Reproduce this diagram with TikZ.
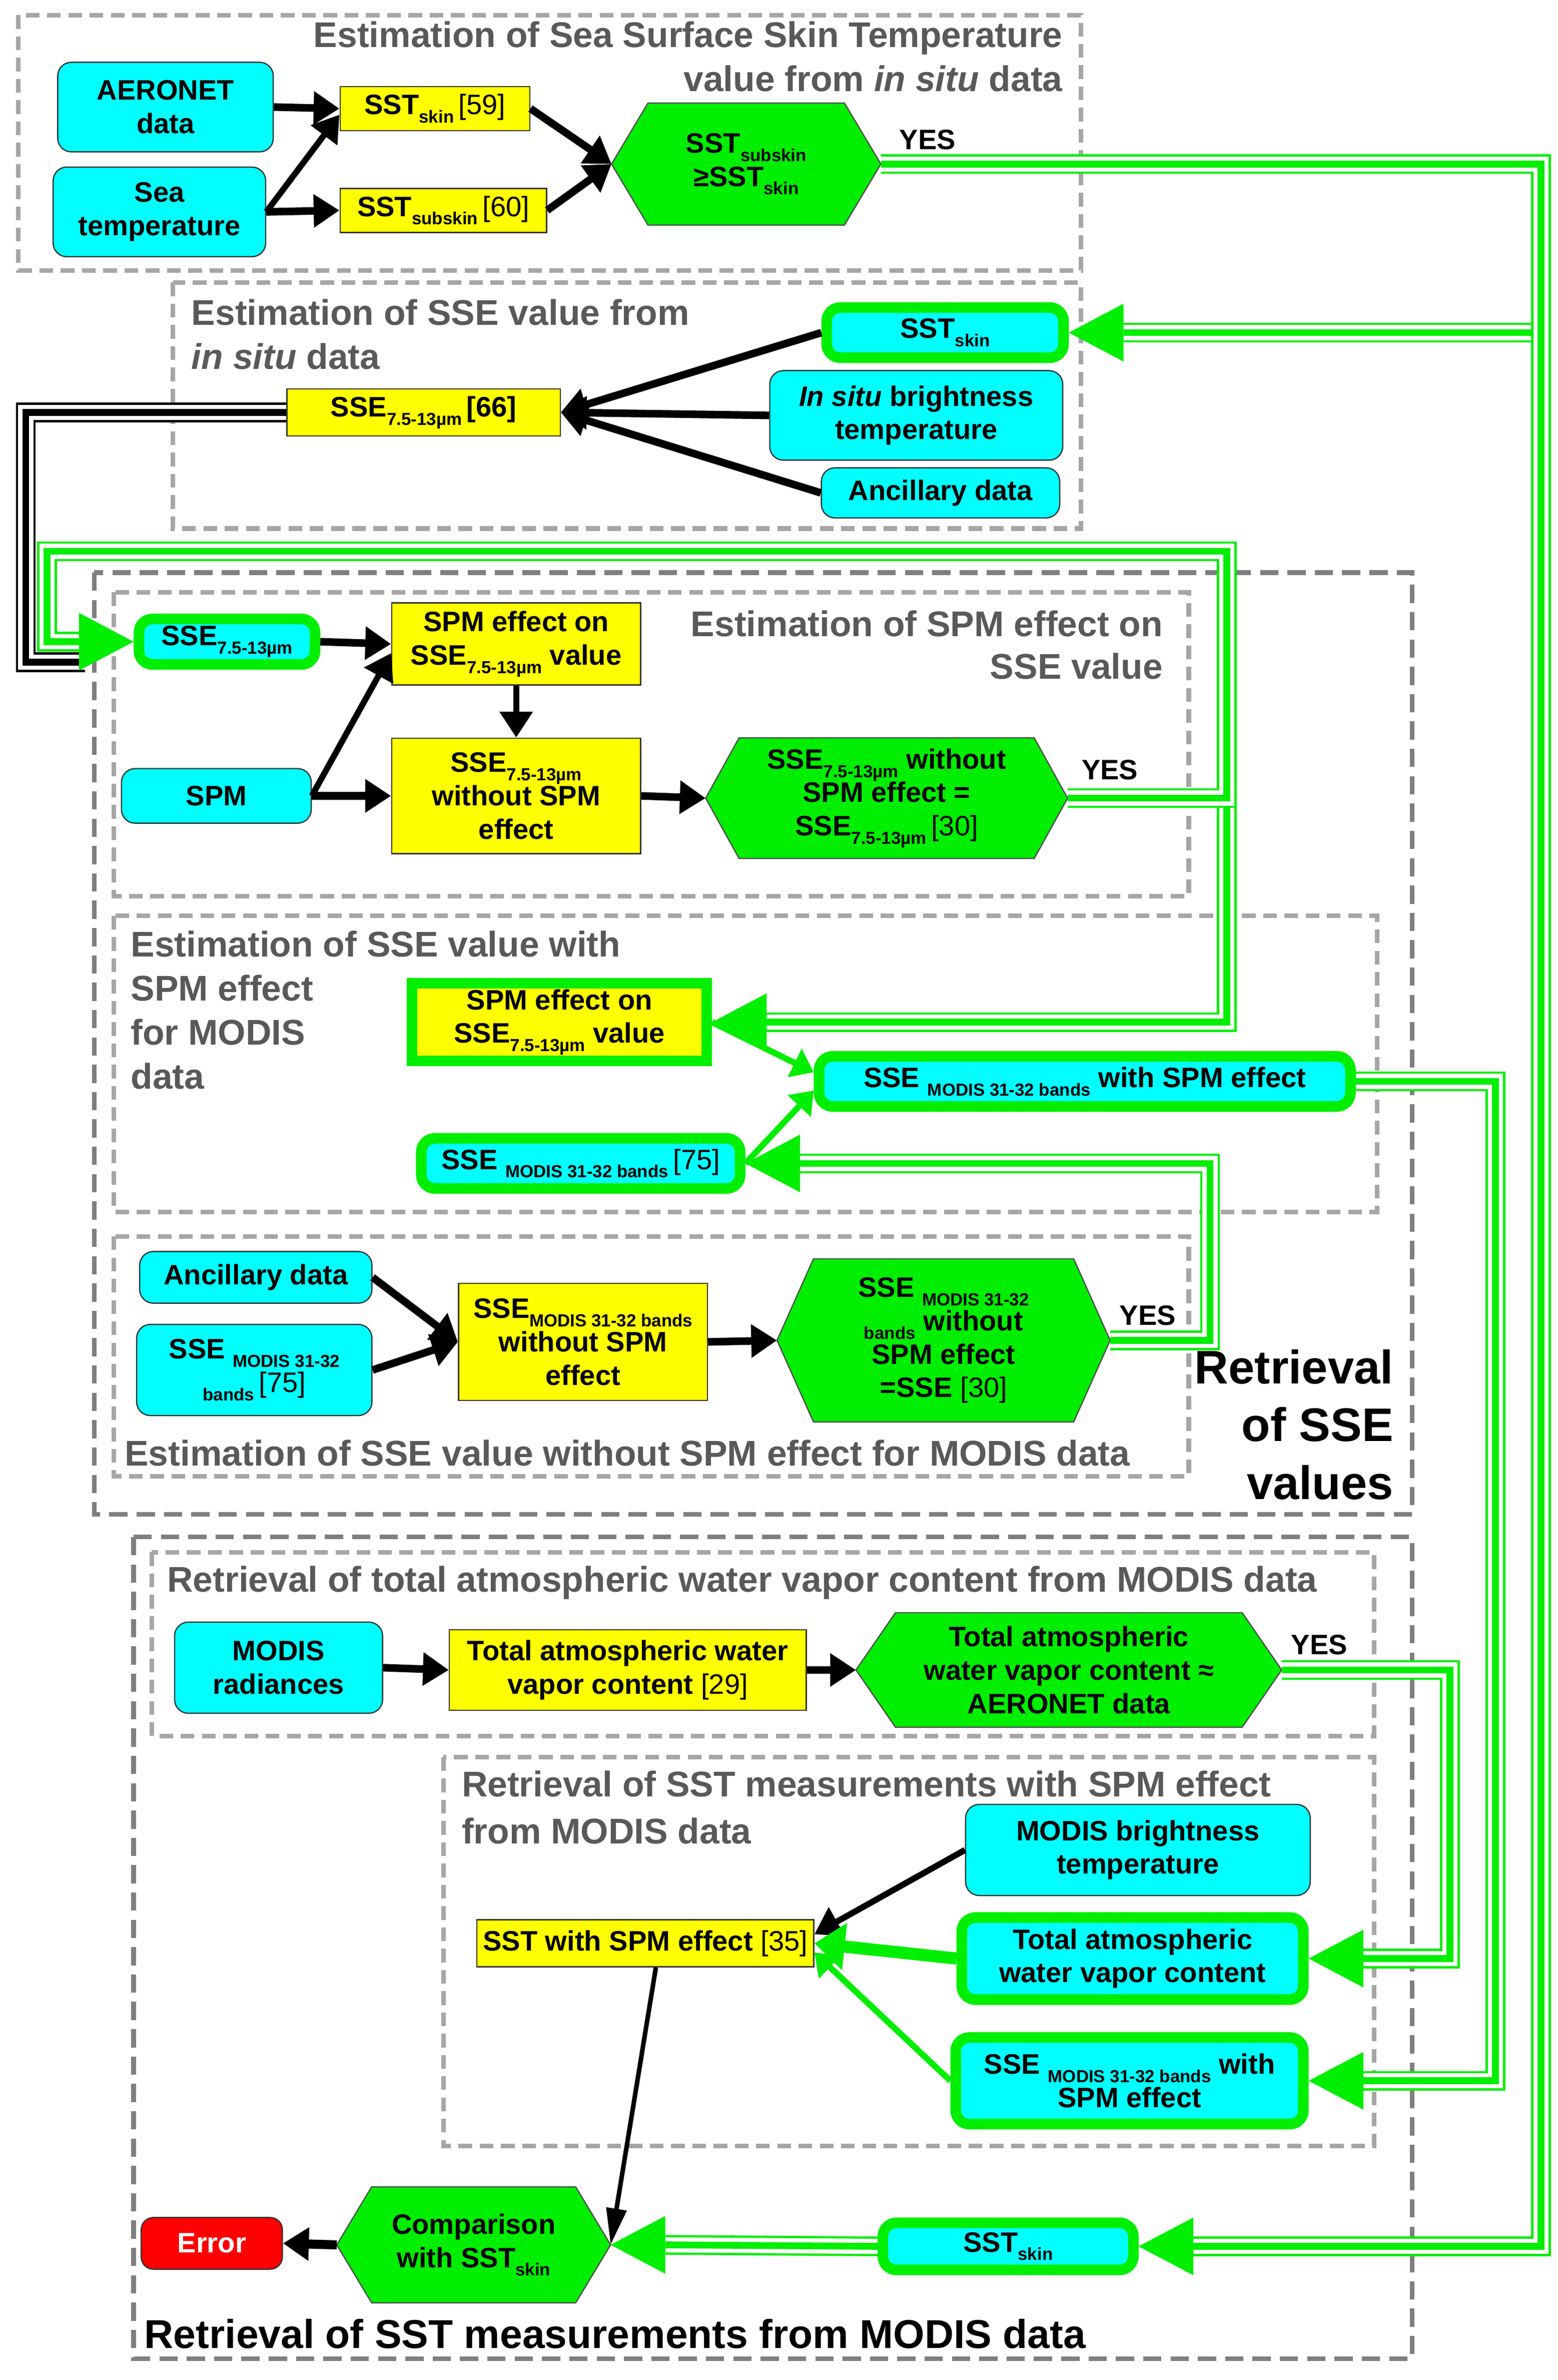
\documentclass[tikz,border=0pt]{standalone}
\usepackage{fontspec}
\setmainfont{Liberation Sans}
\usetikzlibrary{arrows.meta,calc}
\definecolor{C}{HTML}{00FFFF}
\definecolor{Y}{HTML}{FFFF00}
\definecolor{G}{HTML}{00EE00}
\definecolor{R}{HTML}{FF0000}
\definecolor{TG}{HTML}{595959}
\definecolor{DL}{HTML}{A6A6A6}
\definecolor{DD}{HTML}{7F7F7F}
\pgfdeclarelayer{bg}
\pgfsetlayers{bg,main}
\newcommand\nodefont{\fontsize{18.5}{22}\selectfont\bfseries}
\newcommand\ttlfont{\fontsize{23.5}{29}\selectfont\bfseries}
\newcommand\sbs[1]{\raisebox{-0.3em}{\fontsize{11.5}{12}\selectfont #1}}
\newcommand\hexbg[2]{\begin{pgfonlayer}{bg}\draw[hexd] (#1.west) -- ([xshift=#2]#1.north west) -- ([xshift=-#2]#1.north east) -- (#1.east) -- ([xshift=-#2]#1.south east) -- ([xshift=#2]#1.south west) -- cycle;\end{pgfonlayer}}
\newcommand\gtipL[1]{\fill[G] (#1) -- ++(36,-19) -- ++(0,38) -- cycle;}
\newcommand\gtipR[1]{\fill[G] (#1) -- ++(-36,-19) -- ++(0,38) -- cycle;}
\tikzset{
  every node/.style={inner sep=0pt, align=center, font=\nodefont},
  cb/.style={rectangle, rounded corners=9pt, fill=C, draw=black!80, line width=0.8pt},
  cgb/.style={rectangle, rounded corners=9pt, fill=C, draw=G, line width=7pt},
  yb/.style={rectangle, fill=Y, draw=black!80, line width=0.8pt},
  ygb/.style={rectangle, fill=Y, draw=G, line width=7pt},
  hexd/.style={fill=G, draw=black!70, line width=0.8pt},
  ttl/.style={font=\ttlfont, text=TG},
  dl/.style={draw=DL, line width=3pt, dash pattern=on 9pt off 5pt},
  dd/.style={draw=DD, line width=3pt, dash pattern=on 12pt off 6pt},
  ba/.style={draw=black, line width=5pt, -{Triangle[length=17pt,width=21pt]}},
  bt/.style={draw=black, line width=3pt, -{Triangle[length=24pt,width=13pt]}},
  ga/.style={draw=G, line width=4pt, -{Triangle[length=14pt,width=20pt]}},
  gw/.style={draw=G, line width=8pt, -{Triangle[length=20pt,width=30pt]}},
  trip/.style={draw=#1, line width=13pt, postaction={draw=white, line width=10pt}, postaction={draw=#1, line width=4.5pt}}
}
\begin{document}
\begin{tikzpicture}[x=1pt,y=-1pt]
\useasboundingbox (0,0) rectangle (1026,1567);
\begin{pgfonlayer}{bg}
\fill[white] (0,0) rectangle (1026,1567);
\draw[dl] (12,10) rectangle (712,178);
\draw[dl] (114,186) rectangle (712,348);
\draw[dd] (62,377) rectangle (930,997);
\draw[dl] (75,390) rectangle (783,590);
\draw[dl] (75,603) rectangle (907,798);
\draw[dl] (75,814) rectangle (783,972);
\draw[dd] (88,1012) rectangle (930,1553);
\draw[dl] (100,1022) rectangle (905,1143);
\draw[dl] (292,1157) rectangle (905,1413);
\end{pgfonlayer}

% titles
\node[ttl, anchor=base east] (tA1) at (700,31) {Estimation of Sea Surface Skin Temperature};
\node[ttl, anchor=base east] (tA2) at (700,60) {value from \textit{in situ} data};
\node[ttl, anchor=base west] (tB1) at (126,214) {Estimation of SSE value from};
\node[ttl, anchor=base west] (tB2) at (126,243) {\textit{in situ} data};
\node[ttl, anchor=base east] (tD1) at (766,419) {Estimation of SPM effect on};
\node[ttl, anchor=base east] (tD2) at (766,447) {SSE value};
\node[ttl, anchor=base west] (tE1) at (86,630) {Estimation of SSE value with};
\node[ttl, anchor=base west] (tE2) at (86,659) {SPM effect};
\node[ttl, anchor=base west] (tE3) at (86,688) {for MODIS};
\node[ttl, anchor=base west] (tE4) at (86,717) {data};
\node[ttl, anchor=base west] (tF) at (82,965) {Estimation of SSE value without SPM effect for MODIS data};
\node[ttl, anchor=base west] (tH) at (110,1048) {Retrieval of total atmospheric water vapor content from MODIS data};
\node[ttl, anchor=base west] (tI1) at (304,1183) {Retrieval of SST measurements with SPM effect};
\node[ttl, anchor=base west] (tI2) at (304,1214) {from MODIS data};
\node[font=\fontsize{26.5}{30}\selectfont\bfseries, anchor=base west] (tG) at (95,1546) {Retrieval of SST measurements from MODIS data};
\node[font=\fontsize{31}{38}\selectfont\bfseries, anchor=base east] (tC1) at (918,911) {Retrieval};
\node[font=\fontsize{31}{38}\selectfont\bfseries, anchor=base east] (tC2) at (918,949) {of SSE};
\node[font=\fontsize{31}{38}\selectfont\bfseries, anchor=base east] (tC3) at (918,987) {values};

% top block
\node[cb, minimum width=142, minimum height=59] (aero) at (109,70.5) {AERONET\\data};
\node[cb, minimum width=140, minimum height=59] (seat) at (105,139.5) {Sea\\temperature};
\node[yb, minimum width=125, minimum height=29] (sst59) at (286.5,71.5) {SST\sbs{skin}\,{\mdseries[59]}};
\node[yb, minimum width=136, minimum height=29] (sst60) at (292,138.5) {SST\sbs{subskin}\,{\mdseries[60]}};
\node[minimum width=177, minimum height=80] (hx1) at (491.5,108) {SST\sbs{subskin}\\≥SST\sbs{skin}};
\hexbg{hx1}{24}
\node (yes1) at (611,92) {YES};

% SSE in situ
\node[cgb, minimum width=156, minimum height=33] (skA) at (622.5,219) {SST\sbs{skin}};
\node[cb, minimum width=193, minimum height=59] (insitu) at (603.5,273.5) {\textit{In situ} brightness\\temperature};
\node[cb, minimum width=157, minimum height=33] (ancA) at (619.5,324.5) {Ancillary data};
\node[yb, minimum width=180, minimum height=31] (sse66) at (279,271.5) {SSE\sbs{7.5-13µm}\,[66]};

% SPM effect
\node[cgb, minimum width=116, minimum height=30] (s75) at (149.5,422.5) {SSE\sbs{7.5-13µm}};
\node[yb, minimum width=164, minimum height=54] (spme) at (340,424) {SPM effect on\\SSE\sbs{7.5-13µm} value};
\node[cb, minimum width=125, minimum height=36] (spm) at (142.5,524) {SPM};
\node[yb, minimum width=164, minimum height=76] (ssewo) at (340,524) {SSE\sbs{7.5-13µm}\\without SPM\\effect};
\node[minimum width=238, minimum height=79] (hx2) at (584,525.5) {SSE\sbs{7.5-13µm} without\\SPM effect =\\SSE\sbs{7.5-13µm}\,{\mdseries[30]}};
\hexbg{hx2}{22}
\node (yes2) at (731,507) {YES};

% with SPM MODIS
\node[ygb, minimum width=194, minimum height=51] (spme2) at (368.5,673) {SPM effect on\\SSE\sbs{7.5-13µm} value};
\node[cgb, minimum width=350, minimum height=33] (sswith) at (714.5,712) {SSE \sbs{MODIS 31-32 bands} with SPM effect};
\node[cgb, minimum width=210, minimum height=33] (s75b) at (382.5,766) {SSE \sbs{MODIS 31-32 bands}\,{\mdseries[75]}};

% without SPM MODIS
\node[cb, minimum width=153, minimum height=34] (ancB) at (168.5,841) {Ancillary data};
\node[cb, minimum width=155, minimum height=60] (s75c) at (167.5,902) {SSE \sbs{MODIS 31-32}\\\sbs{bands}\,{\mdseries[75]}};
\node[yb, minimum width=164, minimum height=77] (swoM) at (384,883.5) {SSE\sbs{MODIS 31-32 bands}\\without SPM\\effect};
\node[minimum width=219, minimum height=107] (hx3) at (621.5,882.5) {SSE \sbs{MODIS 31-32}\\\sbs{bands} without\\SPM effect\\=SSE {\mdseries[30]}};
\hexbg{hx3}{24}
\node (yes3) at (756,866) {YES};

% water vapour
\node[cb, minimum width=137, minimum height=60] (mrad) at (183.5,1098) {MODIS\\radiances};
\node[yb, minimum width=235, minimum height=53] (twv) at (413.5,1099.5) {Total atmospheric water\\vapor content {\mdseries[29]}};
\node[minimum width=280, minimum height=75] (hx4) at (704,1099.5) {Total atmospheric\\water vapor content ≈\\AERONET data};
\hexbg{hx4}{26}
\node (yes4) at (869,1083) {YES};

% SST with SPM
\node[cb, minimum width=227, minimum height=60] (mbt) at (749.5,1218) {MODIS brightness\\temperature};
\node[yb, minimum width=222, minimum height=31] (sst35) at (425,1279.5) {SST with SPM effect {\mdseries[35]}};
\node[cgb, minimum width=225, minimum height=54] (twvB) at (746,1289.5) {Total atmospheric\\water vapor content};
\node[cgb, minimum width=229, minimum height=57] (swB) at (744,1370) {SSE \sbs{MODIS 31-32 bands} with\\SPM effect};

% bottom
\node[fill=R, draw=black!80, line width=0.8pt, rounded corners=8pt, minimum width=93, minimum height=34, text=white] (err) at (139.5,1477) {Error};
\node[minimum width=180, minimum height=76] (hx5) at (312,1478) {Comparison\\with SST\sbs{skin}};
\hexbg{hx5}{23}
\node[cgb, minimum width=165, minimum height=31] (skB) at (664,1479) {SST\sbs{skin}};

% black arrows
\draw[ba] (aero.east) -- (sst59.west);
\draw[ba, line width=4pt] (seat.east) -- ([yshift=-4]sst59.west);
\draw[ba] (seat.east) -- (sst60.west);
\draw[ba] (sst59.east) -- (hx1.west);
\draw[ba] (sst60.east) -- (hx1.west);
\draw[ba] (skA.west) -- (sse66.east);
\draw[ba] (insitu.west) -- (sse66.east);
\draw[ba] (ancA.west) -- (sse66.east);
\draw[ba] (s75.east) -- (spme.west);
\draw[ba, line width=4pt] (spm.east) -- ([yshift=-6]spme.west);
\draw[ba] (spm.east) -- (ssewo.west);
\draw[ba, line width=4pt] (spme.south) -- (ssewo.north);
\draw[ba] (ssewo.east) -- (hx2.west);
\draw[ba] (ancB.east) -- (swoM.west);
\draw[ba] (s75c.east) -- (swoM.west);
\draw[ba] (swoM.east) -- (hx3.west);
\draw[ba] (mrad.east) -- (twv.west);
\draw[ba] (twv.east) -- (hx4.west);
\draw[ba, line width=4pt] (mbt.west) -- ([yshift=6]sst35.east);
\draw[bt] ([xshift=7]sst35.south) -- (hx5.east);
\draw[ba, line width=6pt] (hx5.west) -- (err.east);

% green single arrows
\draw[ga] (spme2.east) -- ([yshift=6]sswith.west);
\draw[ga] (s75b.east) -- ([yshift=-6]sswith.west);
\draw[gw] (twvB.west) -- (sst35.east);
\draw[ga] (swB.west) -- ([yshift=-6]sst35.east);

% triple connectors
\coordinate (bk1) at (17,436);
\coordinate (bk2) at (56,436);
\draw[trip=black] (sse66.west) -| (bk1) -- (bk2);

\coordinate (v1) at (1015,600);
\draw[trip=G] (hx1.east) -- (hx1.east -| v1) -- (v1 |- skB.east) -- ([xshift=36]skB.east);
\gtipL{skB.east}
\draw[trip=G] ($(v1 |- skA.east)+(-6.5,0)$) -- ([xshift=36]skA.east);
\gtipL{skA.east}

\coordinate (g1) at (808,363);
\coordinate (g2) at (31,363);
\coordinate (g3) at (31,422.5);
\draw[trip=G] (hx2.east) -| (g1) -- (g2) -- (g3) -- ([xshift=-36]s75.west);
\gtipR{s75.west}
\coordinate (g4) at (808,532);
\draw[trip=G] (g4) |- ([xshift=36]spme2.east);
\gtipL{spme2.east}

\coordinate (g5) at (797,800);
\draw[trip=G] (hx3.east) -- (hx3.east -| g5) -- (g5 |- s75b.east) -- ([xshift=36]s75b.east);
\gtipL{s75b.east}

\coordinate (g6) at (985,800);
\draw[trip=G] (sswith.east) -- (sswith.east -| g6) -- (g6 |- swB.east) -- ([xshift=36]swB.east);
\gtipL{swB.east}

\coordinate (g7) at (955,1200);
\draw[trip=G] (hx4.east) -- (hx4.east -| g7) -- (g7 |- twvB.east) -- ([xshift=36]twvB.east);
\gtipL{twvB.east}

\draw[trip=G] (skB.west) -- ([xshift=36]hx5.east);
\gtipL{hx5.east}
\end{tikzpicture}
\end{document}
